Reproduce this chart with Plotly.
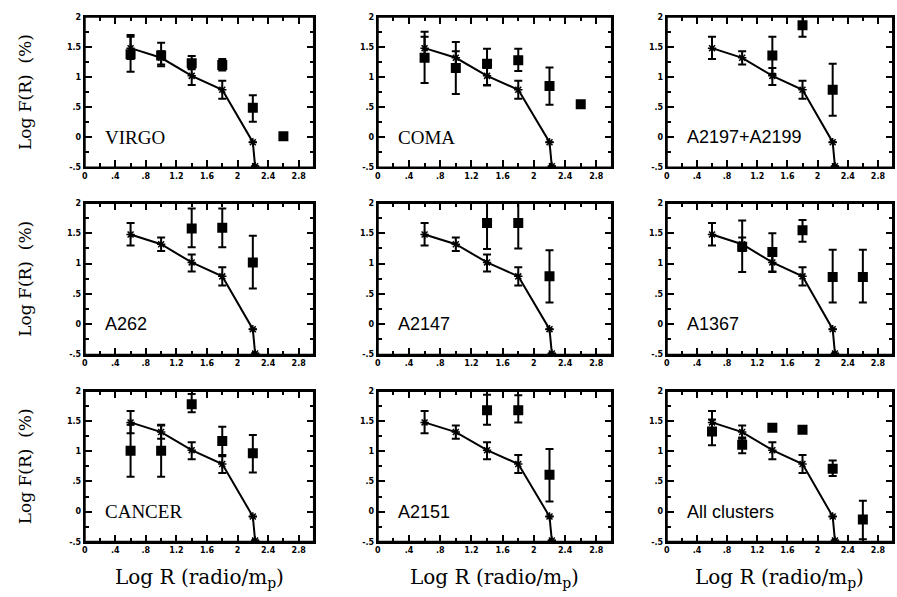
import plotly.graph_objects as go

# ---- model curve (same in every panel) ----
MODEL_X = [0.6, 1.0, 1.4, 1.8, 2.2, 2.23]
MODEL_Y = [1.48, 1.32, 1.02, 0.79, -0.08, -0.48]
MODEL_UP = [0.19, 0.11, 0.13, 0.15, None, None]
MODEL_DN = [0.18, 0.11, 0.15, 0.15, None, None]

# ---- cluster data ----
VIRGO_X = [0.6, 1.0, 1.4, 1.8, 2.2, 2.6]
VIRGO_Y = [1.38, 1.36, 1.23, 1.20, 0.49, 0.02]
VIRGO_UP = [0.32, 0.21, 0.12, 0.10, 0.21, None]
VIRGO_DN = [0.29, 0.18, 0.10, 0.09, 0.23, None]

COMA_X = [0.6, 1.0, 1.4, 1.8, 2.2, 2.6]
COMA_Y = [1.32, 1.15, 1.22, 1.28, 0.85, 0.55]
COMA_UP = [0.43, 0.43, 0.25, 0.19, 0.31, None]
COMA_DN = [0.42, 0.43, 0.36, 0.18, 0.31, None]

A2197_X = [1.4, 1.8, 2.2]
A2197_Y = [1.36, 1.86, 0.79]
A2197_UP = [0.31, 0.15, 0.43]
A2197_DN = [0.31, 0.19, 0.43]

A262_X = [1.4, 1.8, 2.2]
A262_Y = [1.58, 1.59, 1.02]
A262_UP = [0.33, 0.32, 0.44]
A262_DN = [0.31, 0.32, 0.43]

A2147_X = [1.4, 1.8, 2.2]
A2147_Y = [1.67, 1.67, 0.79]
A2147_UP = [0.33, 0.33, 0.43]
A2147_DN = [0.43, 0.42, 0.43]

A1367_X = [1.0, 1.4, 1.8, 2.2, 2.6]
A1367_Y = [1.28, 1.19, 1.55, 0.78, 0.78]
A1367_UP = [0.43, 0.31, 0.17, 0.45, 0.45]
A1367_DN = [0.42, 0.33, 0.19, 0.42, 0.42]

CANCER_X = [0.6, 1.0, 1.4, 1.8, 2.2]
CANCER_Y = [1.01, 1.01, 1.78, 1.17, 0.97]
CANCER_UP = [0.43, 0.43, 0.17, 0.24, 0.30]
CANCER_DN = [0.43, 0.43, 0.13, 0.25, 0.32]

A2151_X = [1.4, 1.8, 2.2]
A2151_Y = [1.68, 1.68, 0.61]
A2151_UP = [0.26, 0.25, 0.43]
A2151_DN = [0.24, 0.20, 0.44]

ALL_X = [0.6, 1.0, 1.4, 1.8, 2.2, 2.6]
ALL_Y = [1.33, 1.11, 1.39, 1.36, 0.71, -0.13]
ALL_UP = [0.20, 0.12, 0.05, 0.04, 0.14, 0.31]
ALL_DN = [0.23, 0.14, 0.05, 0.04, 0.12, 0.33]

PANEL_NAMES = ["VIRGO", "COMA", "A2197+A2199",
               "A262", "A2147", "A1367",
               "CANCER", "A2151", "All clusters"]
SERIF_LABELS = {"VIRGO", "COMA", "CANCER"}
PANEL_DATA = [
    (VIRGO_X, VIRGO_Y, VIRGO_UP, VIRGO_DN),
    (COMA_X, COMA_Y, COMA_UP, COMA_DN),
    (A2197_X, A2197_Y, A2197_UP, A2197_DN),
    (A262_X, A262_Y, A262_UP, A262_DN),
    (A2147_X, A2147_Y, A2147_UP, A2147_DN),
    (A1367_X, A1367_Y, A1367_UP, A1367_DN),
    (CANCER_X, CANCER_Y, CANCER_UP, CANCER_DN),
    (A2151_X, A2151_Y, A2151_UP, A2151_DN),
    (ALL_X, ALL_Y, ALL_UP, ALL_DN),
]

X_TICKS = [0, 0.4, 0.8, 1.2, 1.6, 2.0, 2.4, 2.8]
X_TICKTEXT = ["0", ".4", ".8", "1.2", "1.6", "2", "2.4", "2.8"]
X_MINOR = [0.2, 0.6, 1.0, 1.4, 1.8, 2.2, 2.6, 3.0]
Y_TICKS = [-0.5, 0, 0.5, 1, 1.5, 2]
Y_TICKTEXT = ["-.5", "0", ".5", "1", "1.5", "2"]
Y_MINOR = [-0.25, 0.25, 0.75, 1.25, 1.75]

W, H = 897, 597
COLS_PX = [(82, 312), (376, 611), (666, 893)]
ROWS_PX = [(13, 166), (202, 356), (393, 546)]

fig = go.Figure()
layout = dict(width=W, height=H, margin=dict(l=0, r=0, t=0, b=0),
              paper_bgcolor="white", plot_bgcolor="white", showlegend=False)
annotations = []
shapes = []

for i in range(9):
    r, c = divmod(i, 3)
    xa = "x" if i == 0 else f"x{i+1}"
    ya = "y" if i == 0 else f"y{i+1}"
    xk = "xaxis" if i == 0 else f"xaxis{i+1}"
    yk = "yaxis" if i == 0 else f"yaxis{i+1}"
    x0, x1 = COLS_PX[c]
    y0, y1 = ROWS_PX[r]
    common = dict(showgrid=False, zeroline=False, showline=True, linecolor="black",
                  linewidth=2, mirror="ticks", ticks="inside", ticklen=7, tickwidth=2,
                  tickcolor="black",
                  tickfont=dict(family="DejaVu Sans", size=8, color="black", weight="bold"))
    layout[xk] = dict(common, domain=[x0 / W, x1 / W], range=[0, 3.0], anchor=ya,
                      tickmode="array", tickvals=X_TICKS, ticktext=X_TICKTEXT,
                      minor=dict(tickmode="array", tickvals=X_MINOR, ticklen=4,
                                 tickwidth=2, tickcolor="black", ticks="inside"))
    layout[yk] = dict(common, domain=[1 - y1 / H, 1 - y0 / H], range=[-0.5, 2.0], anchor=xa,
                      tickmode="array", tickvals=Y_TICKS, ticktext=Y_TICKTEXT,
                      minor=dict(tickmode="array", tickvals=Y_MINOR, ticklen=4,
                                 tickwidth=2, tickcolor="black", ticks="inside"))
    # full frame
    shapes.append(dict(type="rect", xref=f"{xa} domain", yref=f"{ya} domain",
                       x0=0, x1=1, y0=0, y1=1, line=dict(color="black", width=2),
                       fillcolor="rgba(0,0,0,0)", layer="above"))

    # model curve
    fig.add_trace(go.Scatter(
        x=MODEL_X, y=MODEL_Y, xaxis=xa, yaxis=ya, mode="lines+markers",
        line=dict(color="black", width=2),
        marker=dict(symbol="asterisk-open", size=7, color="black",
                    line=dict(color="black", width=1.5)),
        error_y=dict(type="data", array=MODEL_UP, arrayminus=MODEL_DN,
                     color="black", thickness=2, width=4),
        hoverinfo="skip"))

    dx, dy, up, dn = PANEL_DATA[i]
    fig.add_trace(go.Scatter(
        x=dx, y=dy, xaxis=xa, yaxis=ya, mode="markers",
        marker=dict(symbol="square", size=10, color="black"),
        error_y=dict(type="data", array=up, arrayminus=dn,
                     color="black", thickness=2, width=4)))

    name = PANEL_NAMES[i]
    serif = name in SERIF_LABELS
    annotations.append(dict(
        x=0.24, y=0.0, xref=xa, yref=ya, xanchor="left", yanchor="middle",
        text=name, showarrow=False,
        font=dict(family="Liberation Serif" if serif else "Liberation Sans",
                  size=19 if serif else 18, color="black")))

# axis titles
for r in range(3):
    y0, y1 = ROWS_PX[r]
    annotations.append(dict(
        x=22 / W, y=1 - (y0 + y1) / 2 / H, xref="paper", yref="paper",
        text="Log F(R)  (%)", textangle=-90, showarrow=False,
        xanchor="center", yanchor="middle",
        font=dict(family="DejaVu Serif", size=17, color="black")))
for c in range(3):
    x0, x1 = COLS_PX[c]
    annotations.append(dict(
        x=(x0 + x1) / 2 / W, y=1 - 583 / H, xref="paper", yref="paper",
        text="Log R (radio/m<sub>p</sub>)", showarrow=False,
        xanchor="center", yanchor="middle",
        font=dict(family="DejaVu Serif", size=20, color="black")))

layout["annotations"] = annotations
layout["shapes"] = shapes
fig.update_layout(**layout)
fig.write_html("out.html", config={"displayModeBar": False},
               post_script="document.body.style.margin='0';document.body.style.overflow='hidden';")
